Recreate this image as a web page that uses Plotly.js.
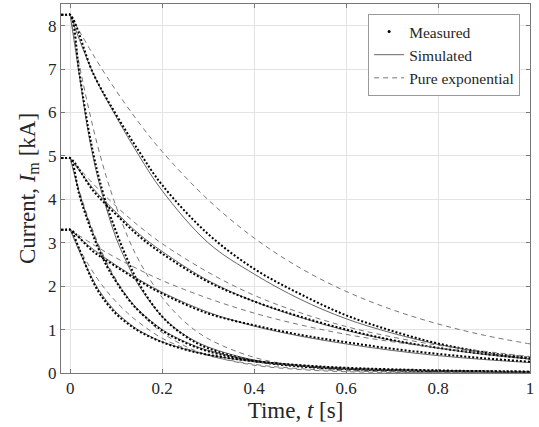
<!DOCTYPE html>
<html>
<head>
<meta charset="utf-8">
<script src="https://cdn.plot.ly/plotly-3.0.1.min.js"></script>
<style>html,body{margin:0;padding:0;background:#fff}#chart{width:539px;height:427px}</style>
</head>
<body>
<div id="chart"></div>
<script>
// time samples
var tPre = [-0.02, -0.01, 0];
var tSlow = [0, 0.05, 0.1, 0.15, 0.2, 0.3, 0.4, 0.5, 0.6, 0.7, 0.8, 0.9, 1.0];
var tFast = [0, 0.02, 0.04, 0.06, 0.08, 0.1, 0.125, 0.15, 0.2, 0.25, 0.3, 0.4, 0.5, 0.6, 0.8, 1.0];

// initial levels [kA]
var levels = [8.25, 4.95, 3.3];

// A: 8.25 kA, slow
var measA = [8.25, 6.9, 5.95, 5.1, 4.33, 3.2, 2.4, 1.82, 1.33, 0.97, 0.68, 0.48, 0.35];
var simA  = [8.25, 6.9, 5.9, 5.0, 4.2, 3.0, 2.28, 1.7, 1.25, 0.92, 0.66, 0.47, 0.32];
var expA  = [8.25, 7.33, 6.5, 5.76, 5.1, 3.99, 3.11, 2.42, 1.88, 1.46, 1.13, 0.87, 0.67];
// D: 4.95 kA, slow
var measD = [4.95, 4.2, 3.65, 3.15, 2.75, 2.1, 1.65, 1.3, 1.0, 0.76, 0.58, 0.44, 0.33];
var simD  = [4.95, 4.25, 3.7, 3.2, 2.8, 2.13, 1.65, 1.28, 0.98, 0.75, 0.57, 0.43, 0.32];
var expD  = [4.95, 4.36, 3.84, 3.38, 2.98, 2.32, 1.79, 1.39, 1.07, 0.83, 0.64, 0.50, 0.38];
// F: 3.3 kA, slow
var measF = [3.3, 2.8, 2.45, 2.12, 1.83, 1.37, 1.1, 0.88, 0.71, 0.56, 0.44, 0.34, 0.26];
var simF  = [3.3, 2.85, 2.48, 2.15, 1.86, 1.4, 1.08, 0.85, 0.67, 0.52, 0.4, 0.31, 0.24];
var expF  = [3.3, 2.96, 2.65, 2.38, 2.13, 1.72, 1.38, 1.11, 0.89, 0.72, 0.58, 0.46, 0.37];
// B: 8.25 kA, fast
var measB = [8.25, 6.9, 5.6, 4.6, 3.85, 3.25, 2.6, 2.05, 1.3, 0.85, 0.57, 0.28, 0.15, 0.09, 0.04, 0.02];
var simB  = [8.25, 6.85, 5.5, 4.5, 3.75, 3.1, 2.5, 2.0, 1.3, 0.87, 0.6, 0.3, 0.17, 0.1, 0.05, 0.03];
var expB  = [8.25, 7.1, 6.1, 5.22, 4.47, 3.83, 3.14, 2.58, 1.74, 1.17, 0.79, 0.36, 0.16, 0.07, 0.015, 0.003];
// C: 4.95 kA, fast
var measC = [4.95, 4.1, 3.45, 2.9, 2.45, 2.1, 1.72, 1.42, 0.98, 0.7, 0.5, 0.28, 0.17, 0.1, 0.05, 0.03];
var simC  = [4.95, 4.15, 3.5, 2.95, 2.5, 2.12, 1.74, 1.44, 1.0, 0.72, 0.52, 0.29, 0.17, 0.1, 0.05, 0.03];
var expC  = [4.95, 4.19, 3.55, 3.0, 2.54, 2.15, 1.74, 1.41, 0.93, 0.62, 0.41, 0.18, 0.08, 0.03, 0.006, 0.001];
// E: 3.3 kA, fast
var measE = [3.3, 2.85, 2.32, 1.9, 1.6, 1.36, 1.14, 0.96, 0.71, 0.54, 0.42, 0.27, 0.18, 0.12, 0.06, 0.03];
var simE  = [3.3, 2.8, 2.35, 1.95, 1.65, 1.4, 1.17, 0.98, 0.72, 0.55, 0.42, 0.26, 0.17, 0.11, 0.05, 0.03];
var expE  = [3.3, 2.86, 2.49, 2.16, 1.88, 1.64, 1.38, 1.16, 0.80, 0.57, 0.40, 0.20, 0.10, 0.05, 0.01, 0.003];

var seriesNames = ['Measured', 'Simulated', 'Pure exponential'];

var cases = [
  {t: tSlow, lvl: levels[0], m: measA, s: simA, e: expA},
  {t: tFast, lvl: levels[0], m: measB, s: simB, e: expB},
  {t: tSlow, lvl: levels[1], m: measD, s: simD, e: expD},
  {t: tFast, lvl: levels[1], m: measC, s: simC, e: expC},
  {t: tSlow, lvl: levels[2], m: measF, s: simF, e: expF},
  {t: tFast, lvl: levels[2], m: measE, s: simE, e: expE}
];

var traces = [];
cases.forEach(function (c) {
  traces.push({x: c.t, y: c.e, mode: 'lines', line: {color: '#777', width: 1, dash: '5px,4px', shape: 'spline'}, showlegend: false, hoverinfo: 'skip'});
  traces.push({x: c.t, y: c.s, mode: 'lines', line: {color: '#666', width: 1, shape: 'spline'}, showlegend: false, hoverinfo: 'skip'});
  var pre = tPre.map(function () { return c.lvl; });
  traces.push({x: tPre.concat(c.t.slice(1)), y: pre.concat(c.m.slice(1)), mode: 'lines', line: {color: '#000', width: 2, dash: '2px,2px', shape: 'spline'}, showlegend: false, hoverinfo: 'skip'});
});
// legend entries
traces.push({x: [null], y: [null], mode: 'markers', name: seriesNames[0], marker: {color: '#000', size: 3}});
traces.push({x: [null], y: [null], mode: 'lines', name: seriesNames[1], line: {color: '#666', width: 1}});
traces.push({x: [null], y: [null], mode: 'lines', name: seriesNames[2], line: {color: '#777', width: 1, dash: '5px,4px'}});

var font = '"Liberation Serif", "Times New Roman", serif';
var layout = {
  width: 539, height: 427,
  margin: {l: 61, r: 9, t: 4, b: 54},
  paper_bgcolor: '#fff', plot_bgcolor: '#fff',
  font: {family: font, size: 17, color: '#262626'},
  xaxis: {
    range: [-0.02, 1], tickvals: [0, 0.2, 0.4, 0.6, 0.8, 1], ticktext: ['0', '0.2', '0.4', '0.6', '0.8', '1'],
    showgrid: true, gridcolor: '#e3e3e3', zeroline: false,
    showline: true, linecolor: '#777', mirror: 'ticks', ticks: 'inside', ticklen: 4, tickcolor: '#777',
    tickfont: {family: font, size: 17, color: '#262626'},
    title: {text: 'Time, <i>t</i> [s]', font: {family: font, size: 23, color: '#262626'}, standoff: 2}
  },
  yaxis: {
    range: [0, 8.5], tickvals: [0, 1, 2, 3, 4, 5, 6, 7, 8],
    showgrid: true, gridcolor: '#e3e3e3', zeroline: false,
    showline: true, linecolor: '#777', mirror: 'ticks', ticks: 'inside', ticklen: 4, tickcolor: '#777',
    tickfont: {family: font, size: 17, color: '#262626'},
    title: {text: 'Current, <i>I</i><sub>m</sub> [kA]', font: {family: font, size: 23, color: '#262626'}, standoff: 6}
  },
  legend: {
    x: 0.979, xanchor: 'right', y: 0.973, yanchor: 'top',
    bgcolor: '#fff', bordercolor: '#999', borderwidth: 1,
    font: {family: font, size: 15.5, color: '#262626'},
    tracegroupgap: 0, itemwidth: 30
  },
  showlegend: true
};

Plotly.newPlot('chart', traces, layout, {staticPlot: true, displayModeBar: false});
</script>
</body>
</html>
